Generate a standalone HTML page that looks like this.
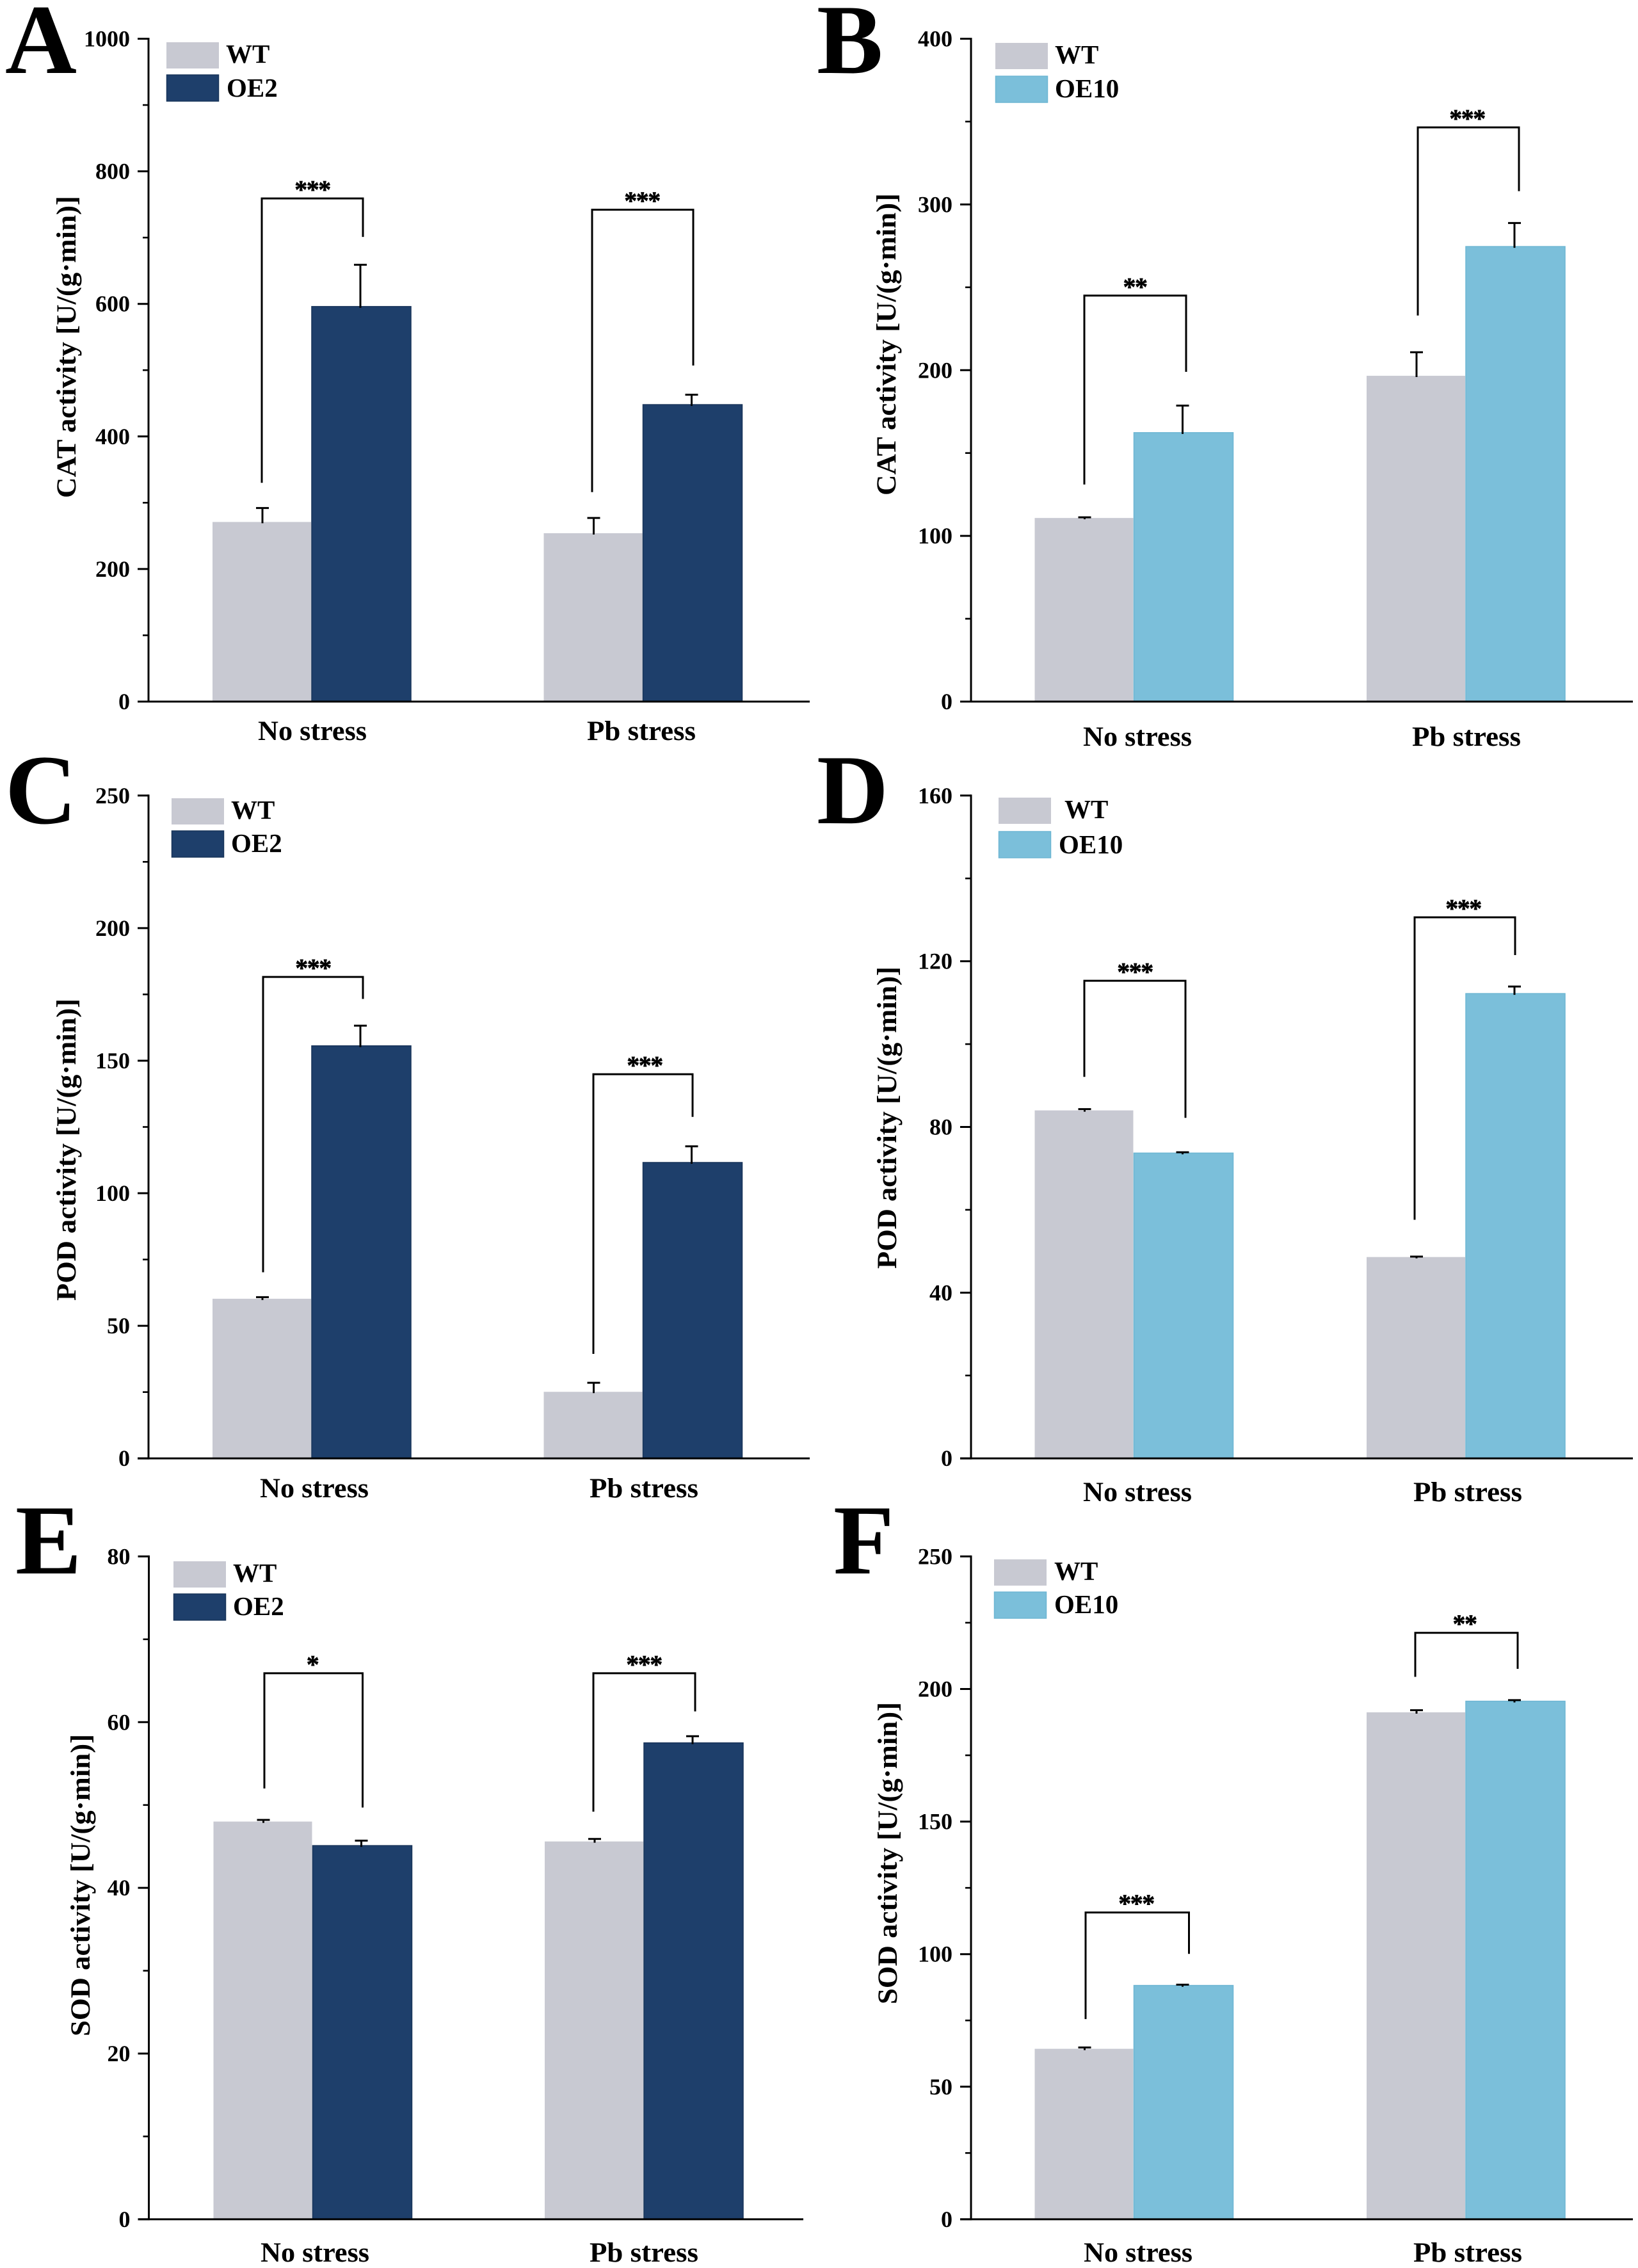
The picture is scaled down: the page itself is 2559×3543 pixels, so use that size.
<!DOCTYPE html>
<html lang="en">
<head>
<meta charset="utf-8">
<title>Antioxidant enzyme activity in WT and overexpression lines</title>
<style>
html,body{margin:0;padding:0;background:#fff}
svg{display:block}
text{font-family:"Liberation Serif","Times New Roman",serif;font-weight:bold;fill:#000}
</style>
</head>
<body>
<svg id="figure" xmlns="http://www.w3.org/2000/svg" width="2559" height="3543" viewBox="0 0 2559 3543">
<rect x="0" y="0" width="2559" height="3543" fill="#ffffff"/>
</svg>
<script>
const categories = ['No stress', 'Pb stress'];

const panelATicks = [0, 200, 400, 600, 800, 1000];
const panelAWt = [271, 254];
const panelAOe = [596, 448];
const panelAWtErr = [21, 23];
const panelAOeErr = [63, 15];
const panelABracketTop = [759, 742];
const panelABracketLeftEnd = [330, 316];
const panelABracketRightEnd = [701, 507];
const panelAStars = ['***', '***'];

const panelBTicks = [0, 100, 200, 300, 400];
const panelBWt = [110.8, 196.6];
const panelBOe = [162.3, 274.6];
const panelBWtErr = [0.4, 14.2];
const panelBOeErr = [16.3, 14.2];
const panelBBracketTop = [245, 346.5];
const panelBBracketLeftEnd = [131, 233];
const panelBBracketRightEnd = [199, 308];
const panelBStars = ['**', '***'];

const panelCTicks = [0, 50, 100, 150, 200, 250];
const panelCWt = [60.2, 25.1];
const panelCOe = [155.6, 111.6];
const panelCWtErr = [0.6, 3.4];
const panelCOeErr = [7.6, 6.1];
const panelCBracketTop = [181.6, 144.9];
const panelCBracketLeftEnd = [70.2, 39.4];
const panelCBracketRightEnd = [173.3, 128.8];
const panelCStars = ['***', '***'];

const panelDTicks = [0, 40, 80, 120, 160];
const panelDWt = [84, 48.6];
const panelDOe = [73.7, 112.2];
const panelDWtErr = [0.3, 0.1];
const panelDOeErr = [0.2, 1.7];
const panelDBracketTop = [115.3, 130.6];
const panelDBracketLeftEnd = [92.1, 57.6];
const panelDBracketRightEnd = [82.2, 121.5];
const panelDStars = ['***', '***'];

const panelETicks = [0, 20, 40, 60, 80];
const panelEWt = [48, 45.6];
const panelEOe = [45.1, 57.5];
const panelEWtErr = [0.2, 0.3];
const panelEOeErr = [0.6, 0.8];
const panelEBracketTop = [65.9, 65.9];
const panelEBracketLeftEnd = [52, 49.2];
const panelEBracketRightEnd = [49.7, 61.3];
const panelEStars = ['*', '***'];

const panelFTicks = [0, 50, 100, 150, 200, 250];
const panelFWt = [64.3, 191.2];
const panelFOe = [88.2, 195.4];
const panelFWtErr = [0.5, 0.8];
const panelFOeErr = [0.3, 0.4];
const panelFBracketTop = [115.7, 221.2];
const panelFBracketLeftEnd = [75.5, 204.6];
const panelFBracketRightEnd = [100.1, 207.6];
const panelFStars = ['***', '**'];

const GREY = '#c8c9d2', NAVY = '#1e3f6b', NAVY_EDGE = '#173359', SKY = '#7bbfda', SKY_EDGE = '#6db6d3';
const svg = document.getElementById('figure');
const NS = 'http://www.w3.org/2000/svg';

function mk(parent, tag, attrs, content) {
  const el = document.createElementNS(NS, tag);
  for (const k in attrs) el.setAttribute(k, attrs[k]);
  if (content !== undefined) el.textContent = content;
  parent.appendChild(el);
  return el;
}

function drawPanel(p) {
  const maxV = p.ticks[p.ticks.length - 1];
  const y = v => p.yBottom - (v / maxV) * (p.yBottom - p.yTop);

  const g = mk(svg, 'g', {});
  
  

  const letter = mk(g, 'text', { x: p.letterX, y: p.letterY, 'font-size': 155 }, p.id);
  
  

  // bars
  p.centers.forEach((c, i) => {
    const wtBar = mk(g, 'rect', { x: c - p.barW + 0.5, y: y(p.wt[i]), width: p.barW - 1, height: y(0) - y(p.wt[i]), fill: GREY });
    
    
    const oeBar = mk(g, 'rect', { x: c + 0.5, y: y(p.oe[i]), width: p.barW, height: y(0) - y(p.oe[i]), fill: p.color, stroke: p.edge, 'stroke-width': 1.5 });
    
    

    [[p.wt[i], p.wtErr[i], c - p.barW / 2 + 1, 'wt'], [p.oe[i], p.oeErr[i], c + p.barW / 2 - 1, 'oe']].forEach(e => {
      const err = mk(g, 'path', {
        d: 'M' + e[2] + ' ' + (y(e[0]) + 2) + 'V' + y(e[0] + e[1]) + 'M' + (e[2] - 10) + ' ' + y(e[0] + e[1]) + 'H' + (e[2] + 10),
        fill: 'none', stroke: '#000', 'stroke-width': 3
      });
      
      
    });

    const bx = p.brackets[i];
    const br = mk(g, 'path', {
      d: 'M' + bx[0] + ' ' + y(p.bLeft[i]) + 'V' + y(p.bTop[i]) + 'H' + bx[1] + 'V' + y(p.bRight[i]),
      fill: 'none', stroke: '#000', 'stroke-width': 3
    });
    
    

    const st = mk(g, 'text', { x: bx[2], y: y(p.bTop[i]) - 0.5, 'font-size': 40, 'font-weight': 'normal', 'text-anchor': 'middle', 'letter-spacing': -1.5, stroke: '#000', 'stroke-width': 0.7 }, p.stars[i]);
    
    

    const cat = mk(g, 'text', { x: p.catX[i], y: p.catY, 'font-size': 43, 'text-anchor': 'middle', textLength: 170, lengthAdjust: 'spacingAndGlyphs' }, categories[i]);
    
    
  });

  // axes
  const axisY = mk(g, 'line', { x1: p.axisX, x2: p.axisX, y1: y(maxV) - 1.5, y2: y(0) + 1.5, stroke: '#000', 'stroke-width': 3 });
  
  
  const axisX = mk(g, 'line', { x1: p.axisX - 17, x2: p.xEnd, y1: y(0), y2: y(0), stroke: '#000', 'stroke-width': 3 });
  
  

  p.ticks.forEach((t, i) => {
    const tick = mk(g, 'line', { x1: p.axisX - 17, x2: p.axisX, y1: y(t), y2: y(t), stroke: '#000', 'stroke-width': 3 });
    
    
    const lab = mk(g, 'text', { x: p.axisX - 29, y: y(t) + 12, 'font-size': 36, 'text-anchor': 'end' }, String(t));
    
    
    if (i < p.ticks.length - 1) {
      const mv = (t + p.ticks[i + 1]) / 2;
      const minor = mk(g, 'line', { x1: p.axisX - 9, x2: p.axisX, y1: y(mv), y2: y(mv), stroke: '#000', 'stroke-width': 2.6 });
      
      
    }
  });

  const yl = mk(g, 'text', {
    x: 0, y: 0, 'font-size': 43, 'text-anchor': 'middle',
    transform: 'translate(' + p.ylabelX + ' ' + p.ylabelY + ') rotate(-90)',
    textLength: 472, lengthAdjust: 'spacingAndGlyphs'
  }, p.ylabel);
  
  

  // legend
  const wtSwatch = mk(g, 'rect', { x: p.legX, y: p.legY1, width: 82, height: 41, fill: GREY });
  
  
  const oeSwatch = mk(g, 'rect', { x: p.legX + 0.5, y: p.legY2, width: 81, height: 41, fill: p.color, stroke: p.edge, 'stroke-width': 1.5 });
  
  
  const wtText = mk(g, 'text', { x: p.legTextWt, y: p.legY1 + 32, 'font-size': 41 }, 'WT');
  
  
  const oeText = mk(g, 'text', { x: p.legTextOe, y: p.legY2 + p.legOeDy, 'font-size': 41 }, p.oeName);
  
  
}

drawPanel({
  id: 'A', letterX: 8, letterY: 114, ticks: panelATicks, wt: panelAWt, oe: panelAOe, wtErr: panelAWtErr, oeErr: panelAOeErr,
  bTop: panelABracketTop, bLeft: panelABracketLeftEnd, bRight: panelABracketRightEnd, stars: panelAStars,
  yTop: 60.5, yBottom: 1096, axisX: 232, xEnd: 1265, centers: [486.5, 1004], barW: 155,
  brackets: [[409, 567, 488], [925, 1083, 1003]], catX: [488, 1002], catY: 1156,
  color: NAVY, edge: NAVY_EDGE, oeName: 'OE2', ylabel: 'CAT activity [U/(g·min)]', ylabelX: 118, ylabelY: 542,
  legX: 260, legY1: 66, legY2: 117, legOeDy: 34, legTextWt: 353, legTextOe: 354
});
drawPanel({
  id: 'B', letterX: 1276, letterY: 114, ticks: panelBTicks, wt: panelBWt, oe: panelBOe, wtErr: panelBWtErr, oeErr: panelBOeErr,
  bTop: panelBBracketTop, bLeft: panelBBracketLeftEnd, bRight: panelBBracketRightEnd, stars: panelBStars,
  yTop: 60.5, yBottom: 1096, axisX: 1517, xEnd: 2551, centers: [1771, 2289.5], barW: 155,
  brackets: [[1694, 1853, 1773], [2215, 2373, 2292]], catX: [1777, 2291], catY: 1165,
  color: SKY, edge: SKY_EDGE, oeName: 'OE10', ylabel: 'CAT activity [U/(g·min)]', ylabelX: 1399, ylabelY: 538,
  legX: 1555, legY1: 67, legY2: 119, legOeDy: 33, legTextWt: 1648, legTextOe: 1648
});
drawPanel({
  id: 'C', letterX: 8, letterY: 1286, ticks: panelCTicks, wt: panelCWt, oe: panelCOe, wtErr: panelCWtErr, oeErr: panelCOeErr,
  bTop: panelCBracketTop, bLeft: panelCBracketLeftEnd, bRight: panelCBracketRightEnd, stars: panelCStars,
  yTop: 1242.8, yBottom: 2278.2, axisX: 232, xEnd: 1265, centers: [486.5, 1004], barW: 155,
  brackets: [[411, 567, 489], [927, 1082, 1007]], catX: [491, 1006], catY: 2339,
  color: NAVY, edge: NAVY_EDGE, oeName: 'OE2', ylabel: 'POD activity [U/(g·min)]', ylabelX: 118, ylabelY: 1796,
  legX: 268, legY1: 1247, legY2: 1298, legOeDy: 33, legTextWt: 361, legTextOe: 361
});
drawPanel({
  id: 'D', letterX: 1276, letterY: 1286, ticks: panelDTicks, wt: panelDWt, oe: panelDOe, wtErr: panelDWtErr, oeErr: panelDOeErr,
  bTop: panelDBracketTop, bLeft: panelDBracketLeftEnd, bRight: panelDBracketRightEnd, stars: panelDStars,
  yTop: 1242.8, yBottom: 2278.2, axisX: 1517, xEnd: 2551, centers: [1771, 2289.5], barW: 155,
  brackets: [[1694, 1852, 1773], [2210, 2367, 2286]], catX: [1777, 2293], catY: 2345,
  color: SKY, edge: SKY_EDGE, oeName: 'OE10', ylabel: 'POD activity [U/(g·min)]', ylabelX: 1400, ylabelY: 1746,
  legX: 1560, legY1: 1246, legY2: 1299, legOeDy: 34, legTextWt: 1663, legTextOe: 1654
});
drawPanel({
  id: 'E', letterX: 24, letterY: 2458, ticks: panelETicks, wt: panelEWt, oe: panelEOe, wtErr: panelEWtErr, oeErr: panelEOeErr,
  bTop: panelEBracketTop, bLeft: panelEBracketLeftEnd, bRight: panelEBracketRightEnd, stars: panelEStars,
  yTop: 2431.4, yBottom: 3466.9, axisX: 232.5, xEnd: 1255, centers: [488, 1005.5], barW: 155,
  brackets: [[413, 566.5, 488], [927, 1086, 1006]], catX: [492, 1006], catY: 3533,
  color: NAVY, edge: NAVY_EDGE, oeName: 'OE2', ylabel: 'SOD activity [U/(g·min)]', ylabelX: 140, ylabelY: 2945,
  legX: 271, legY1: 2439, legY2: 2490, legOeDy: 33, legTextWt: 364, legTextOe: 364
});
drawPanel({
  id: 'F', letterX: 1302, letterY: 2458, ticks: panelFTicks, wt: panelFWt, oe: panelFOe, wtErr: panelFWtErr, oeErr: panelFOeErr,
  bTop: panelFBracketTop, bLeft: panelFBracketLeftEnd, bRight: panelFBracketRightEnd, stars: panelFStars,
  yTop: 2431.4, yBottom: 3466.9, axisX: 1517, xEnd: 2551, centers: [1771, 2289.5], barW: 155,
  brackets: [[1696, 1857.5, 1775], [2211, 2371, 2288]], catX: [1778, 2293], catY: 3533,
  color: SKY, edge: SKY_EDGE, oeName: 'OE10', ylabel: 'SOD activity [U/(g·min)]', ylabelX: 1401, ylabelY: 2895,
  legX: 1553, legY1: 2436, legY2: 2487, legOeDy: 33, legTextWt: 1647, legTextOe: 1647
});
</script>
</body>
</html>
